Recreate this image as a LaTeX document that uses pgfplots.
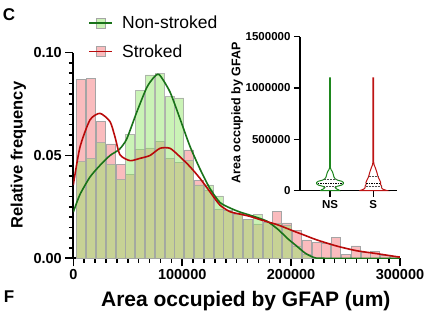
\documentclass[border=0pt]{standalone}
\usepackage{pgfplots}
\pgfplotsset{compat=1.18}
\usepackage{pgfplotstable}
\usepackage{fontspec}
\setmainfont{Liberation Sans}

\definecolor{pinkfill}{RGB}{250,188,190}
\definecolor{greenbase}{RGB}{150,232,110}
\definecolor{greenlight}{RGB}{202,243,182}
\definecolor{ngline}{RGB}{25,115,25}
\definecolor{sline}{RGB}{185,10,10}
\definecolor{baredge}{RGB}{165,165,165}
\definecolor{vgreen}{RGB}{30,135,30}
\definecolor{vred}{RGB}{190,20,20}

\pgfplotstableread{
x y
7300 0.0870
16300 0.0875
25300 0.0665
34300 0.0556
43300 0.0457
52300 0.0408
61300 0.0530
70300 0.0537
79300 0.0567
88300 0.0486
97300 0.0467
106300 0.0527
115300 0.0378
124300 0.0332
133300 0.0240
142300 0.0232
151300 0.0220
160300 0.0190
169300 0.0167
178300 0.0174
187300 0.0230
196300 0.0172
205300 0.0135
214300 0.0089
223300 0.0077
232300 0.0075
241300 0.0102
250300 0.0020
259300 0.0060
268300 0.0030
277300 0.0035
286300 0.0015
295300 0.0010
}\strokedbars

\pgfplotstableread{
x y
7300 0.0470
16300 0.0486
25300 0.0562
34300 0.0457
43300 0.0384
52300 0.0603
61300 0.0817
70300 0.0892
79300 0.0898
88300 0.0786
97300 0.0780
106300 0.0475
115300 0.0357
124300 0.0357
133300 0.0303
142300 0.0235
151300 0.0214
160300 0.0190
169300 0.0214
178300 0.0174
187300 0.0170
196300 0.0160
205300 0.0060
214300 0.0020
}\nonstrokedbars

\pgfplotstableread{
x y
0 0.0225
6100 0.0310
15300 0.0395
24500 0.0452
33700 0.0500
42300 0.0530
49000 0.0580
58200 0.0710
67400 0.0830
74000 0.0880
79000 0.0893
88700 0.0810
97900 0.0680
107100 0.0545
116300 0.0435
125400 0.0340
134600 0.0272
143800 0.0245
153000 0.0225
165000 0.0205
178000 0.0180
188100 0.0140
197000 0.0095
205000 0.0060
213000 0.0025
221000 0.0004
230000 0.0000
300000 0.0000
}\nonstrokedkde

\pgfplotstableread{
x y
0 0.0357
6100 0.0540
15300 0.0673
24500 0.0705
33700 0.0665
38300 0.0590
42900 0.0503
52100 0.0475
61200 0.0486
70400 0.0500
79600 0.0535
88800 0.0535
97900 0.0494
107100 0.0446
116300 0.0389
125400 0.0324
134600 0.0259
143800 0.0227
153000 0.0215
162100 0.0204
172800 0.0186
188100 0.0162
203400 0.0130
211000 0.0115
223300 0.0090
241600 0.0060
260000 0.0037
278300 0.0023
296700 0.0008
300000 0.0006
}\strokedkde

\begin{document}
\begin{tikzpicture}
\useasboundingbox (0pt,0pt) rectangle (424pt,321pt);

\begin{axis}[
  at={(73.3pt,62.7pt)}, anchor=south west,
  scale only axis, width=326.7pt, height=205.6pt,
  xmin=0, xmax=300000, ymin=0, ymax=0.1,
  axis x line*=bottom, axis y line*=left,
  axis line style={line width=2pt, black},
  tick align=outside,
  major tick length=8pt, minor tick length=4.5pt,
  every tick/.style={black, line width=1.6pt},
  xtick={0,100000,200000,300000}, minor x tick num=9,
  ytick={0,0.05,0.1}, minor y tick num=9,
  scaled x ticks=false, scaled y ticks=false,
  /pgf/number format/assume math mode=true,
  ticklabel style={font=\bfseries\fontsize{14.5}{16}\selectfont},
  xticklabel style={/pgf/number format/fixed, /pgf/number format/set thousands separator={}},
  yticklabel style={/pgf/number format/fixed, /pgf/number format/fixed zerofill, /pgf/number format/precision=2},
  xlabel={Area occupied by GFAP (um)},
  ylabel={Relative frequency},
  xlabel style={font=\bfseries\fontsize{21}{24}\selectfont, at={(axis description cs:0.528,-0.21)}, anchor=center},
  ylabel style={font=\bfseries\fontsize{16.5}{19}\selectfont, at={(axis description cs:-0.168,0.502)}, anchor=center, rotate=0},
  legend style={draw=none, fill=none, at={(axis description cs:0.046,1.19)}, anchor=north west,
    font=\fontsize{17.5}{20}\selectfont, row sep=10.5pt, inner sep=0pt,
    /tikz/every odd column/.append style={column sep=7pt}},
  legend cell align=left,
]
\addplot[fill=pinkfill, draw=baredge, line width=0.6pt, ybar, bar width=8300, bar shift=0pt, forget plot] table[x=x,y=y] {\strokedbars};
\addplot[fill=greenbase, fill opacity=0.5, draw=baredge, draw opacity=0.8, line width=0.6pt, ybar, bar width=8300, bar shift=0pt, forget plot] table[x=x,y=y] {\nonstrokedbars};
\addplot[ngline, line width=1.6pt, smooth, tension=0.4, no marks, forget plot] table[x=x,y=y] {\nonstrokedkde};
\addplot[sline, line width=1.6pt, smooth, tension=0.4, no marks, forget plot] table[x=x,y=y] {\strokedkde};

\addlegendimage{legend image code/.code={
  \draw[draw=baredge, fill=greenlight, line width=0.6pt] (7pt,-5pt) rectangle (16pt,5pt);
  \draw[ngline, line width=1.6pt] (0pt,0pt) -- (23pt,0pt);
}}
\addlegendentry{Non-stroked}
\addlegendimage{legend image code/.code={
  \draw[draw=baredge, fill=pinkfill, line width=0.6pt] (7pt,-5pt) rectangle (16pt,5pt);
  \draw[sline, line width=1.6pt] (0pt,0pt) -- (23pt,0pt);
}}
\addlegendentry{Stroked}
\end{axis}

\begin{axis}[
  at={(300pt,130.3pt)}, anchor=south west,
  scale only axis, width=96.7pt, height=154pt,
  xmin=0.307, xmax=2.54, ymin=0, ymax=1500000,
  axis x line*=bottom, axis y line*=left,
  axis line style={line width=1.3pt, black},
  tick align=outside, major tick length=6pt,
  every tick/.style={black, line width=1.3pt},
  xtick={1,2}, xticklabels={NS,S},
  ytick={0,500000,1000000,1500000},
  scaled y ticks=false,
  /pgf/number format/assume math mode=true,
  ticklabel style={font=\bfseries\fontsize{11.5}{13}\selectfont},
  yticklabel style={/pgf/number format/fixed, /pgf/number format/set thousands separator={}},
  ylabel={Area occupied by GFAP},
  ylabel style={font=\bfseries\fontsize{12.5}{14}\selectfont, at={(axis description cs:-0.651,0.505)}, anchor=center},
  clip=false,
]
\addplot[vgreen, line width=1pt, fill=white, no marks] coordinates {
(0.78,0) (0.80,8000) (0.85,18000) (0.88,30000) (0.84,42000) (0.73,55000) (0.69,68000) (0.69,80000) (0.73,92000) (0.82,102000) (0.88,115000) (0.91,135000) (0.925,160000) (0.945,185000) (0.975,205000) (0.992,225000) (0.992,1100000)
(1.008,1100000) (1.008,225000) (1.025,205000) (1.055,185000) (1.075,160000) (1.09,135000) (1.12,115000) (1.18,102000) (1.27,92000) (1.31,80000) (1.31,68000) (1.27,55000) (1.16,42000) (1.12,30000) (1.15,18000) (1.20,8000) (1.22,0) (0.78,0)
};
\addplot[vred, line width=1pt, fill=white, no marks] coordinates {
(1.68,0) (1.72,6000) (1.78,15000) (1.81,28000) (1.81,45000) (1.835,62000) (1.83,80000) (1.85,100000) (1.88,125000) (1.90,150000) (1.915,175000) (1.935,200000) (1.955,225000) (1.98,250000) (1.992,280000) (1.992,1100000)
(2.008,1100000) (2.008,280000) (2.02,250000) (2.045,225000) (2.065,200000) (2.085,175000) (2.10,150000) (2.12,125000) (2.15,100000) (2.17,80000) (2.165,62000) (2.19,45000) (2.19,28000) (2.22,15000) (2.28,6000) (2.32,0) (1.68,0)
};
\addplot[black!70, line width=0.5pt, densely dotted, no marks] coordinates {(0.87,39000) (1.13,39000)};
\addplot[black, line width=0.6pt, dashed, dash pattern=on 1.5pt off 1pt, no marks] coordinates {(0.72,72000) (1.28,72000)};
\addplot[black!70, line width=0.5pt, densely dotted, no marks] coordinates {(0.86,110000) (1.14,110000)};
\addplot[black!70, line width=0.5pt, densely dotted, no marks] coordinates {(1.82,39000) (2.18,39000)};
\addplot[black, line width=0.6pt, dashed, dash pattern=on 1.5pt off 1pt, no marks] coordinates {(1.84,72000) (2.16,72000)};
\addplot[black!70, line width=0.5pt, densely dotted, no marks] coordinates {(1.89,136000) (2.11,136000)};
\end{axis}

\node[font=\bfseries\fontsize{17}{19}\selectfont] at (9pt,306pt) {C};
\node[font=\bfseries\fontsize{17}{19}\selectfont] at (9pt,24pt) {F};
\end{tikzpicture}
\end{document}
